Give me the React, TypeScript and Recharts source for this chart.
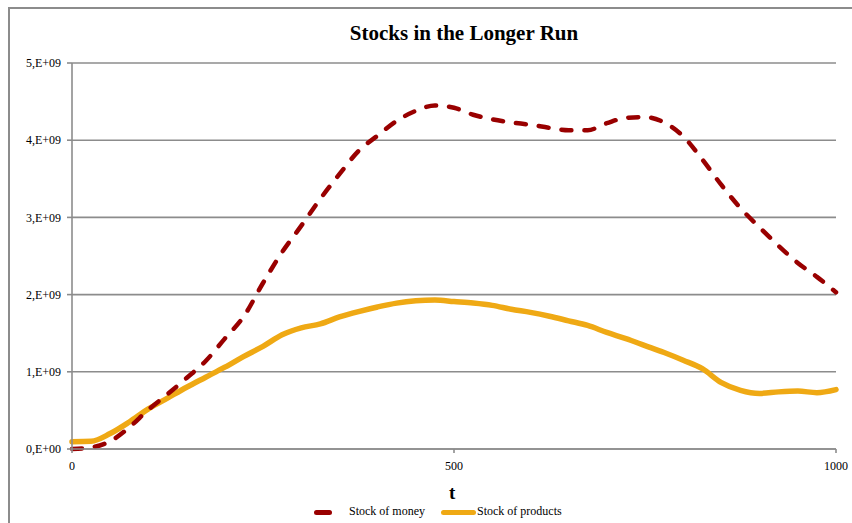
import React from 'react';
import { LineChart, Line, XAxis, YAxis, CartesianGrid } from 'recharts';

const T_VALUES = [
  0, 25, 50, 75, 100, 125, 150, 175, 200, 225, 250, 275, 300, 325, 350, 375, 400, 425, 450, 475, 500,
  525, 550, 575, 600, 625, 650, 675, 700, 725, 750, 775, 800, 825, 850, 875, 900, 925, 950, 975, 1000,
];

// billions
const MONEY = [
  0, 0.02, 0.1, 0.28, 0.51, 0.71, 0.92, 1.14, 1.43, 1.72, 2.15, 2.55, 2.89, 3.24, 3.56, 3.86, 4.06, 4.25, 4.38, 4.45, 4.42,
  4.33, 4.27, 4.23, 4.2, 4.16, 4.13, 4.13, 4.22, 4.29, 4.3, 4.23, 4.05, 3.75, 3.42, 3.12, 2.87, 2.63, 2.41, 2.23, 2.03,
];

const PRODUCTS = [
  0.095, 0.1, 0.2, 0.35, 0.52, 0.66, 0.8, 0.93, 1.06, 1.2, 1.33, 1.48, 1.57, 1.62, 1.71, 1.78, 1.84, 1.89, 1.92, 1.93, 1.91,
  1.89, 1.86, 1.81, 1.77, 1.72, 1.66, 1.6, 1.51, 1.43, 1.34, 1.25, 1.15, 1.04, 0.86, 0.76, 0.72, 0.74, 0.75, 0.73, 0.77,
];

const X_TICKS = [0, 500, 1000];
const Y_TICKS = [0, 1e9, 2e9, 3e9, 4e9, 5e9];

const MONEY_COLOR = '#990000';
const PRODUCTS_COLOR = '#EFA914';
const GRID = '#8c8c8c';
const FONT = '"Liberation Serif", "Times New Roman", serif';

const data = T_VALUES.map((t, i) => ({
  t,
  money: MONEY[i] * 1e9,
  products: PRODUCTS[i] * 1e9,
}));

const fmtY = (v: number) => `${Math.round(v / 1e9)},E+${v === 0 ? '00' : '09'}`;

export default function App() {
  return (
    <div style={{ position: 'fixed', left: 0, top: 0, width: 852, height: 523, overflow: 'hidden', background: '#fff', fontFamily: FONT }}>
      <div
        style={{
          position: 'absolute', left: 8, top: 7, width: 1000, height: 800,
          borderLeft: `2px solid ${GRID}`, borderTop: `2px solid ${GRID}`,
        }}
      />
      <div style={{ position: 'absolute', left: 0, top: 21, width: 928, textAlign: 'center', fontSize: 21, fontWeight: 'bold', color: '#000' }}>
        Stocks in the Longer Run
      </div>
      <div style={{ position: 'absolute', left: 0, top: 0 }}>
        <LineChart width={852} height={523} data={data} margin={{ top: 63, right: 16, left: 0, bottom: 44 }}>
          <CartesianGrid vertical={false} stroke={GRID} strokeWidth={1.6} />
          <XAxis
            dataKey="t"
            type="number"
            domain={[0, 1000]}
            ticks={X_TICKS}
            height={30}
            stroke={GRID}
            strokeWidth={1.6}
            tickSize={4}
            tickMargin={8}
            tick={{ fill: '#000', fontSize: 12, fontFamily: FONT }}
          />
          <YAxis
            type="number"
            domain={[0, 5e9]}
            ticks={Y_TICKS}
            width={72}
            tickFormatter={fmtY}
            stroke={GRID}
            strokeWidth={1.6}
            tickSize={5}
            tickMargin={6}
            tick={{ fill: '#000', fontSize: 12, fontFamily: FONT }}
          />
          <Line
            type="monotone"
            dataKey="products"
            stroke={PRODUCTS_COLOR}
            strokeWidth={5.5}
            dot={false}
            strokeLinecap="round"
            isAnimationActive={false}
          />
          <Line
            type="monotone"
            dataKey="money"
            stroke={MONEY_COLOR}
            strokeWidth={4.5}
            strokeDasharray="10 13"
            strokeLinecap="round"
            dot={false}
            isAnimationActive={false}
          />
        </LineChart>
      </div>
      <div style={{ position: 'absolute', left: 449, top: 482, fontSize: 19, fontWeight: 'bold' }}>t</div>
      <div style={{ position: 'absolute', left: 0, top: 504, width: 852, height: 16, fontSize: 12 }}>
        <div style={{ position: 'absolute', left: 314, top: 6, width: 18, height: 5, borderRadius: 3, background: MONEY_COLOR }} />
        <div style={{ position: 'absolute', left: 349, top: 0 }}>Stock of money</div>
        <div style={{ position: 'absolute', left: 441, top: 6, width: 35, height: 5, borderRadius: 3, background: PRODUCTS_COLOR }} />
        <div style={{ position: 'absolute', left: 477, top: 0 }}>Stock of products</div>
      </div>
    </div>
  );
}
